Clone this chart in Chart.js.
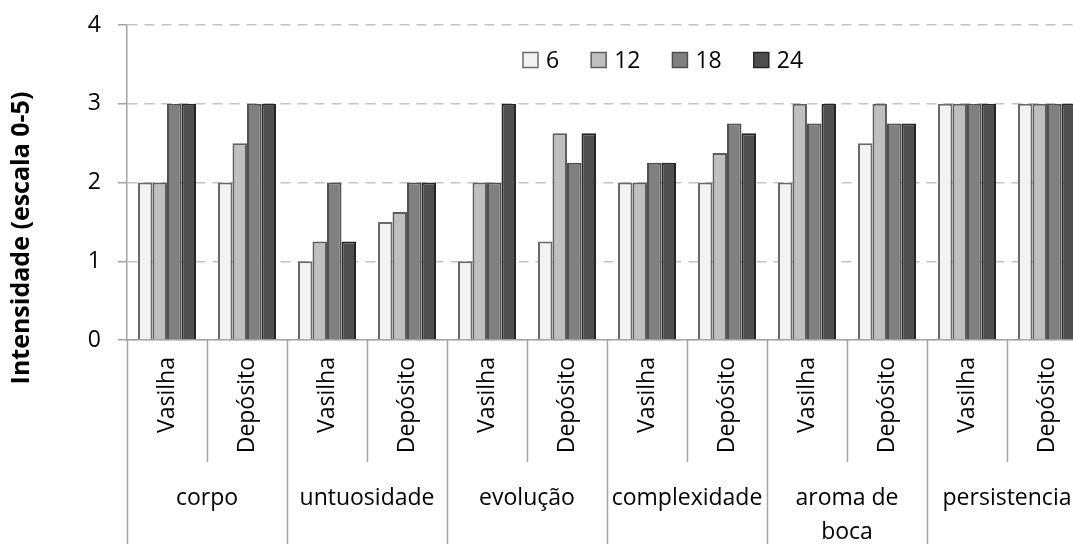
<!DOCTYPE html>
<html>
<head>
<meta charset="utf-8">
<script src="https://cdn.jsdelivr.net/npm/chart.js@4/dist/chart.umd.min.js"></script>
<style>
html,body{margin:0;padding:0;background:#fff;overflow:hidden}
#caixa{width:1087px;height:544px}
</style>
</head>
<body>
<div id="caixa"><canvas id="graficoIntensidade"></canvas></div>
<script>
let atributos=['corpo','untuosidade','evolução','complexidade','aroma de\nboca','persistencia']
let recipientes=['Vasilha','Depósito']
let series=['6','12','18','24']

let valores6=[2,2,1,1.5,1,1.25,2,2,2,2.5,3,3]
let valores12=[2,2.5,1.25,1.625,2,2.625,2,2.375,3,3,3,3]
let valores18=[3,3,2,2,2,2.25,2.25,2.75,2.75,2.75,3,3]
let valores24=[3,3,1.25,2,3,2.625,2.25,2.625,3,2.75,3,3]

let marcasY=[0,1,2,3,4]

let fonte='"Open Sans", sans-serif'

let rotulos=[]
atributos.forEach(a=>{
recipientes.forEach(r=>{
rotulos.push(r)
})
})

let cores=['#f2f2f2','#bfbfbf','#808080','#4f4f4f']
let bordas=['#6a6a6a','#5e5e5e','#505050','#262626']

let eixoCategorias={
id:'eixoCategorias',
afterDraw(chart){
let ctx=chart.ctx
let x=chart.scales.x
let area=chart.chartArea
let larg=(x.right-x.left)/rotulos.length

ctx.save()
ctx.strokeStyle='#a3a3a3'
ctx.lineWidth=1.5
for(let b=0;b<=rotulos.length;b++){
let px=Math.round(x.left+b*larg)+0.5
ctx.beginPath()
ctx.moveTo(px,area.bottom)
ctx.lineTo(px,b%2==0?chart.height:area.bottom+122)
ctx.stroke()
}

ctx.fillStyle='#000'
ctx.font='23px '+fonte
rotulos.forEach((r,i)=>{
let cx=x.getPixelForValue(i)
ctx.save()
ctx.translate(cx,area.bottom+17)
ctx.rotate(-Math.PI/2)
ctx.textAlign='right'
ctx.textBaseline='middle'
ctx.fillText(r,0,0)
ctx.restore()
})

ctx.textAlign='center'
ctx.textBaseline='middle'
atributos.forEach((a,g)=>{
let cx=x.left+(2*g+1)*larg
a.split('\n').forEach((linha,k)=>{
ctx.fillText(linha,cx,area.bottom+158+k*34)
})
})

ctx.font='bold 25px '+fonte
ctx.save()
ctx.translate(22,238)
ctx.rotate(-Math.PI/2)
ctx.fillText('Intensidade (escala 0-5)',0,0)
ctx.restore()

ctx.restore()
}
}

let legendaInterna={
id:'legendaInterna',
afterDraw(chart){
let ctx=chart.ctx
let px=523
let py=chart.chartArea.top+35
ctx.save()
ctx.font='23px '+fonte
ctx.textBaseline='middle'
ctx.textAlign='left'
chart.data.datasets.forEach(d=>{
ctx.fillStyle=d.backgroundColor
ctx.strokeStyle=d.borderColor
ctx.lineWidth=1.5
ctx.fillRect(px,py-7.5,15,15)
ctx.strokeRect(px,py-7.5,15,15)
ctx.fillStyle='#000'
ctx.fillText(d.label,px+23,py+1)
px+=23+ctx.measureText(d.label).width+32
})
ctx.restore()
}
}

let graficoIntensidade=new Chart(document.getElementById('graficoIntensidade'),{
type:'bar',
data:{
labels:rotulos,
datasets:[
{label:series[0],data:valores6,backgroundColor:cores[0],borderColor:bordas[0]},
{label:series[1],data:valores12,backgroundColor:cores[1],borderColor:bordas[1]},
{label:series[2],data:valores18,backgroundColor:cores[2],borderColor:bordas[2]},
{label:series[3],data:valores24,backgroundColor:cores[3],borderColor:bordas[3]}
].map(d=>({...d,borderWidth:2,categoryPercentage:0.725,barPercentage:1}))
},
options:{
responsive:true,
maintainAspectRatio:false,
animation:false,
layout:{padding:{top:25,right:0,left:0,bottom:0}},
plugins:{
legend:{display:false},
tooltip:{enabled:false}
},
scales:{
x:{
grid:{display:false},
border:{display:true,color:'#a3a3a3',width:1.5},
ticks:{display:false},
afterFit(s){s.height=204;s.paddingLeft=0;s.paddingRight=0}
},
y:{
min:0,
max:4,
afterBuildTicks(s){s.ticks=marcasY.map(v=>({value:v}))},
ticks:{
color:'#000',
font:{family:fonte,size:23},
padding:17
},
grid:{
color:'#c4c4c4',
lineWidth:1.5,
tickColor:'#a3a3a3',
tickBorderDash:[],
tickLength:9
},
border:{color:'#a3a3a3',width:1.5,dash:[10,7]},
afterFit(s){s.width=127;s.paddingTop=0;s.paddingBottom=0}
}
}
},
plugins:[eixoCategorias,legendaInterna]
})
</script>
</body>
</html>
